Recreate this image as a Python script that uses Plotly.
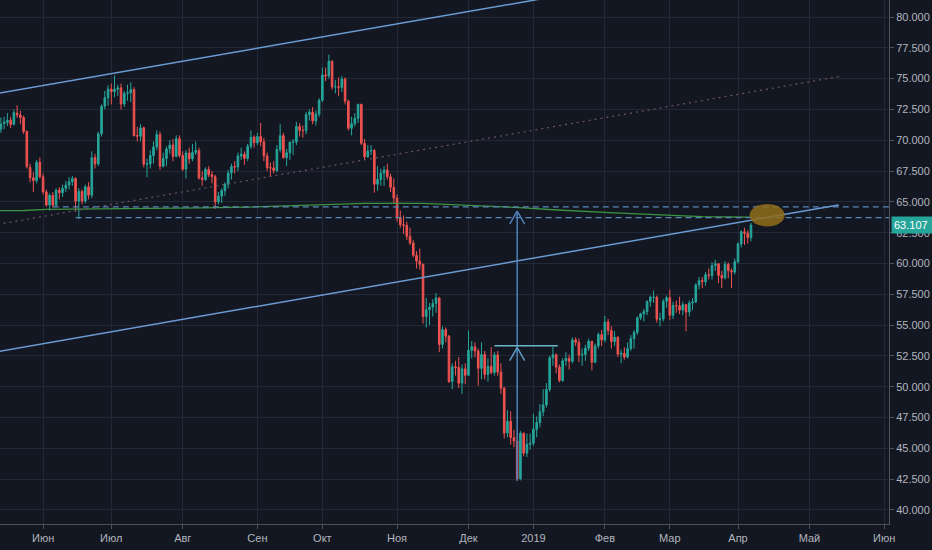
import pandas as pd
import plotly.graph_objects as go

# USOIL daily candles, 14 May 2018 .. 5 Apr 2019 (weekday bars, no bar on Dec 25 / Jan 1)
holidays = ["2018-12-25", "2019-01-01"]
dates = [d for d in pd.bdate_range("2018-05-14", "2019-04-05")
         if d.strftime("%Y-%m-%d") not in holidays]

opens = [
    # May
    70.62, 70.90, 71.35, 71.45, 71.62, 71.30, 72.20, 72.05, 71.84, 70.71, 67.80, 66.95, 66.73, 68.21,
    # Jun
    67.04, 65.81, 64.75, 65.52, 64.73, 65.95, 65.74, 66.10, 66.36, 66.64, 66.89, 65.06, 65.85, 65.07,
    66.22, 65.54, 68.58, 68.08, 70.53, 72.76, 73.45,
    # Jul
    74.15, 73.94, 74.14, 74.25, 72.94, 73.80, 73.85, 74.11, 70.38, 70.33, 71.01, 68.06, 68.08, 68.76,
    69.46, 70.46, 67.89, 68.52, 69.30, 69.61, 68.69, 70.13,
    # Aug
    68.76, 67.66, 68.96, 68.49, 69.01, 69.17, 66.94, 66.81, 67.63, 67.20, 67.04, 65.01, 65.46, 65.91,
    66.43, 67.35, 67.86, 67.83, 68.72, 68.87, 68.53, 69.51, 70.25,
    # Sep
    69.80, 70.30, 69.87, 68.72, 67.77, 67.75, 67.54, 69.25, 70.37, 68.59, 68.99, 69.85, 69.85, 71.12,
    70.80, 70.78, 72.08, 72.28, 71.57, 72.12,
    # Oct
    73.25, 75.30, 75.23, 76.41, 74.33, 74.34, 74.29, 74.96, 73.17, 70.97, 71.34, 71.78, 72.92, 69.75,
    68.65, 69.12, 69.17, 66.43, 66.82, 67.33, 67.59, 67.04, 66.18,
    # Nov
    65.31, 63.69, 63.14, 63.10, 62.21, 61.67, 60.67, 60.19, 59.93, 55.69, 56.25, 56.46, 56.76, 57.20,
    53.43, 54.63, 54.10, 50.42, 51.63, 51.56, 50.29, 51.45,
    # Dec
    50.93, 52.95, 53.25, 52.89, 51.49, 52.61, 51.00, 51.65, 51.15, 52.58, 51.20, 49.88, 46.24, 47.20,
    45.88, 45.59, 42.53, 46.22, 44.61, 45.33,
    # Jan
    45.41, 46.54, 47.09, 47.96, 48.52, 49.78, 52.36, 52.59, 51.59, 50.51, 52.11, 52.31, 52.07, 53.80,
    53.60, 52.57, 52.62, 53.13, 53.69, 51.99, 53.31, 54.23,
    # Feb
    53.79, 55.26, 54.56, 53.66, 54.01, 52.64, 52.72, 52.41, 53.10, 53.90, 54.41, 55.59, 55.90, 56.09,
    56.92, 57.26, 57.26, 55.48, 55.50, 56.94,
    # Mar
    57.22, 55.80, 56.59, 56.56, 56.22, 56.66, 56.07, 56.79, 56.87, 58.26, 58.61, 58.52, 59.09, 59.03,
    59.83, 59.98, 59.04, 58.82, 59.94, 59.41, 59.30,
    # Apr
    60.14, 61.59, 62.58, 62.46, 62.10,
]

highs = [
    71.38, 71.85, 71.90, 72.20, 71.90, 72.50, 72.83, 72.40, 72.00, 70.80, 68.10, 67.40, 68.40, 68.60,
    67.30, 66.00, 65.70, 65.80, 66.10, 66.20, 66.40, 66.70, 67.00, 67.10, 67.00, 66.10, 66.00, 66.40,
    66.60, 69.10, 68.90, 70.70, 72.90, 74.00, 74.46,
    74.60, 75.27, 74.50, 74.60, 74.00, 74.50, 74.70, 74.30, 71.10, 71.30, 71.10, 68.50, 69.20, 69.90,
    70.80, 70.70, 69.00, 69.50, 70.00, 70.10, 70.40, 70.40,
    69.10, 69.20, 69.40, 69.70, 69.90, 69.40, 67.50, 67.80, 67.90, 67.50, 67.20, 65.80, 66.10, 66.60,
    67.60, 68.10, 68.30, 69.00, 69.40, 69.10, 69.70, 70.80, 70.40,
    70.60, 71.40, 70.20, 69.00, 68.20, 68.30, 69.60, 71.30, 70.60, 69.30, 69.50, 70.10, 71.50, 71.40,
    71.20, 72.30, 72.50, 72.70, 72.40, 73.40,
    75.90, 75.90, 76.95, 76.50, 74.90, 75.10, 75.20, 75.10, 73.30, 71.90, 72.20, 72.95, 72.95, 70.10,
    69.60, 69.60, 69.30, 67.90, 67.70, 67.90, 68.10, 67.30, 66.90,
    65.60, 64.30, 63.90, 63.40, 62.90, 61.90, 61.00, 61.20, 60.00, 57.20, 56.80, 57.10, 57.60, 57.30,
    54.90, 54.80, 54.20, 51.90, 52.10, 52.40, 51.80, 51.90,
    54.55, 53.70, 53.60, 53.10, 53.60, 52.90, 52.30, 53.20, 52.80, 52.90, 51.90, 50.00, 48.10, 48.00,
    46.50, 46.20, 46.40, 46.30, 46.20, 46.20,
    47.80, 47.60, 48.60, 49.80, 50.30, 52.50, 53.25, 52.70, 51.80, 52.30, 52.80, 52.60, 54.00, 54.00,
    53.90, 53.10, 53.40, 53.90, 53.70, 53.50, 54.40, 54.60,
    55.75, 55.50, 54.90, 54.50, 54.10, 53.00, 53.20, 53.60, 54.20, 54.60, 55.70, 56.00, 56.30, 57.00,
    57.40, 57.80, 57.40, 56.00, 57.10, 57.40,
    57.88, 56.90, 57.00, 57.30, 56.90, 56.70, 57.00, 57.20, 58.40, 58.90, 58.90, 59.30, 59.60, 60.10,
    60.30, 60.00, 59.40, 60.20, 60.10, 59.60, 60.40,
    61.70, 62.70, 62.90, 62.70, 63.30,
]

lows = [
    70.30, 70.60, 70.90, 71.15, 71.00, 71.20, 71.80, 71.30, 70.50, 67.70, 66.60, 65.80, 66.50, 66.90,
    65.60, 64.60, 64.30, 64.55, 64.60, 65.20, 65.40, 65.80, 66.00, 66.30, 64.20, 63.60, 64.80, 64.90,
    65.20, 65.30, 67.70, 67.90, 70.30, 72.50, 72.80,
    72.90, 73.50, 73.60, 72.50, 72.70, 73.20, 73.10, 70.30, 69.90, 69.90, 67.80, 67.00, 67.70, 68.10,
    69.20, 67.60, 67.80, 67.90, 68.90, 68.30, 68.60, 68.60,
    67.50, 66.90, 68.10, 68.30, 68.80, 66.80, 66.30, 66.70, 67.00, 66.50, 64.43, 64.80, 64.90, 65.50,
    66.10, 66.80, 67.30, 67.50, 68.40, 68.00, 68.30, 69.30, 69.40,
    69.60, 69.50, 68.30, 67.50, 67.10, 67.30, 67.40, 69.00, 68.50, 67.90, 68.40, 68.80, 69.60, 70.30,
    70.20, 70.50, 71.60, 71.30, 71.20, 71.90,
    73.10, 74.80, 75.00, 74.10, 73.80, 73.60, 73.90, 72.90, 70.80, 70.40, 71.10, 71.40, 69.60, 68.40,
    68.60, 68.80, 65.74, 65.90, 66.30, 66.30, 66.80, 65.80, 64.90,
    63.40, 62.90, 62.40, 61.90, 61.50, 60.50, 59.60, 59.50, 55.12, 54.80, 55.00, 55.70, 56.00, 52.80,
    53.10, 53.60, 50.30, 49.80, 50.90, 49.90, 49.40, 50.20,
    50.90, 52.30, 52.40, 50.08, 50.60, 50.60, 50.40, 51.00, 50.90, 50.90, 49.40, 45.80, 45.90, 45.30,
    45.10, 42.36, 42.40, 44.35, 44.30, 44.90,
    45.20, 45.90, 46.70, 47.60, 48.30, 49.60, 51.70, 51.10, 50.35, 50.40, 51.70, 51.40, 51.90, 53.30,
    52.00, 51.70, 52.10, 52.90, 51.33, 51.90, 53.10, 53.30,
    53.60, 54.20, 53.10, 53.30, 52.40, 51.90, 52.20, 52.30, 52.90, 53.10, 54.20, 55.40, 55.30, 55.80,
    56.50, 56.80, 55.20, 54.90, 55.30, 56.40,
    55.40, 55.50, 56.00, 55.90, 55.80, 54.50, 55.70, 56.20, 56.80, 57.90, 58.00, 58.20, 58.70, 58.70,
    59.40, 58.40, 58.00, 58.70, 58.80, 58.00, 59.10,
    60.00, 61.30, 61.50, 61.60, 61.80,
]

closes = [
    70.96, 71.31, 71.49, 71.62, 71.28, 72.24, 72.05, 71.84, 70.71, 67.88, 66.95, 66.73, 68.21, 67.04,
    65.81, 64.75, 65.52, 64.73, 65.95, 65.74, 66.10, 66.36, 66.64, 66.89, 65.06, 65.85, 65.07, 66.22,
    65.54, 68.58, 68.08, 70.53, 72.76, 73.45, 74.15,
    73.94, 74.14, 74.25, 72.94, 73.80, 73.85, 74.11, 70.38, 70.33, 71.01, 68.06, 68.08, 68.76, 69.46,
    70.46, 67.89, 68.52, 69.30, 69.61, 68.69, 70.13, 68.76,
    67.66, 68.96, 68.49, 69.01, 69.17, 66.94, 66.81, 67.63, 67.20, 67.04, 65.01, 65.46, 65.91, 66.43,
    67.35, 67.86, 67.83, 68.72, 68.87, 68.53, 69.51, 70.25, 69.80,
    70.30, 69.87, 68.72, 67.77, 67.75, 67.54, 69.25, 70.37, 68.59, 68.99, 69.85, 69.85, 71.12, 70.80,
    70.78, 72.08, 72.28, 71.57, 72.12, 73.25,
    75.30, 75.23, 76.41, 74.33, 74.34, 74.29, 74.96, 73.17, 70.97, 71.34, 71.78, 72.92, 69.75, 68.65,
    69.12, 69.17, 66.43, 66.82, 67.33, 67.59, 67.04, 66.18, 65.31,
    63.69, 63.14, 63.10, 62.21, 61.67, 60.67, 60.19, 59.93, 55.69, 56.25, 56.46, 56.76, 57.20, 53.43,
    54.63, 54.10, 50.42, 51.63, 51.56, 50.29, 51.45, 50.93,
    52.95, 53.25, 52.89, 51.49, 52.61, 51.00, 51.65, 51.15, 52.58, 51.20, 49.88, 46.24, 47.20, 45.88,
    45.59, 42.53, 46.22, 44.61, 45.33, 45.41,
    46.54, 47.09, 47.96, 48.52, 49.78, 52.36, 52.59, 51.59, 50.51, 52.11, 52.31, 52.07, 53.80, 53.60,
    52.57, 52.62, 53.13, 53.69, 51.99, 53.31, 54.23, 53.79,
    55.26, 54.56, 53.66, 54.01, 52.64, 52.72, 52.41, 53.10, 53.90, 54.41, 55.59, 55.90, 56.09, 56.92,
    57.26, 57.26, 55.48, 55.50, 56.94, 57.22,
    55.80, 56.59, 56.56, 56.22, 56.66, 56.07, 56.79, 56.87, 58.26, 58.61, 58.52, 59.09, 59.03, 59.83,
    59.98, 59.04, 58.82, 59.94, 59.41, 59.30, 60.14,
    61.59, 62.58, 62.46, 62.10, 63.107,
]

assert len(dates) == len(opens) == len(highs) == len(lows) == len(closes)

# green moving average, read at a few points along the line
ma_dates = ["2018-05-14", "2018-05-24", "2018-06-04", "2018-07-02", "2018-07-19", "2018-08-09",
            "2018-08-29", "2018-09-14", "2018-09-26", "2018-10-09", "2018-10-18", "2018-11-13",
            "2018-11-26", "2018-12-11", "2018-12-27", "2019-01-10", "2019-01-24", "2019-02-06",
            "2019-02-15", "2019-03-01", "2019-03-15", "2019-04-05"]
ma_values = [64.28, 64.30, 64.39, 64.42, 64.46, 64.52, 64.58, 64.67, 64.74, 64.83, 64.88, 64.88,
             64.78, 64.67, 64.52, 64.36, 64.20, 64.10, 64.02, 63.90, 63.80, 63.76]

month_ticks = ["2018-06-01", "2018-07-02", "2018-08-01", "2018-09-03", "2018-10-01", "2018-11-01",
               "2018-12-03", "2019-01-02", "2019-02-01", "2019-03-01", "2019-04-01", "2019-05-01",
               "2019-06-03"]
month_labels = ["Июн", "Июл", "Авг", "Сен", "Окт", "Ноя", "Дек", "2019", "Фев", "Мар", "Апр",
                "Май", "Июн"]

# drawings (date, price)
upper_channel = [("2018-05-14", 73.80), ("2019-02-01", 82.37)]
mid_channel = [("2018-05-14", 63.17), ("2019-05-15", 75.21)]
lower_channel = [("2018-05-14", 52.85), ("2019-05-14", 64.75)]
level_top = ("2018-06-06", 64.60)
level_bottom = ("2018-06-15", 63.72)
arrow_date, arrow_from, arrow_mid, arrow_to = "2018-12-24", 42.36, 53.17, 64.25
bracket = ("2018-12-13", "2019-01-11 12:00", 53.33)
ellipse = ("2019-04-04 14:00", "2019-04-19 09:00", 63.0, 64.83)
last_price = closes[-1]

BG = "#131722"
GRID = "#242834"
TXT = "#b2b5be"
UP = "#26a69a"
DOWN = "#ef5350"
FONT = "Liberation Sans Narrow, Liberation Sans, Arial, sans-serif"

fig = go.Figure()
fig.add_trace(go.Candlestick(
    x=dates, open=opens, high=highs, low=lows, close=closes,
    increasing=dict(line=dict(color=UP, width=1), fillcolor=UP),
    decreasing=dict(line=dict(color=DOWN, width=1), fillcolor=DOWN),
    hoverinfo="skip",
))
fig.add_trace(go.Scatter(x=ma_dates, y=ma_values, mode="lines",
                         line=dict(color="#3a9440", width=1.3), hoverinfo="skip"))


def seg(p0, p1, color, width=1.5, dash="solid"):
    fig.add_shape(type="line", xref="x", yref="y", x0=p0[0], y0=p0[1], x1=p1[0], y1=p1[1],
                  line=dict(color=color, width=width, dash=dash))


seg(*upper_channel, "#6a9bd1")
seg(*lower_channel, "#6a9bd1")
seg(*mid_channel, "#6e5268", width=1.2, dash="2px,4px")
seg(level_top, ("2019-06-14", level_top[1]), "#5b87b5", width=1.2, dash="6px,4px")
seg(level_bottom, ("2019-06-14", level_bottom[1]), "#5b87b5", width=1.2, dash="6px,4px")

# arrow from the December low up to the level
seg((arrow_date, arrow_from), (arrow_date, arrow_to), "#4d80b8")
seg((bracket[0], bracket[2]), (bracket[1], bracket[2]), "#6cb6cc", width=1.5)
for tip, col in ((arrow_to, "#4d80b8"), (arrow_mid, "#5d9cc4")):
    for dx in (-7.5, 7.5):
        fig.add_shape(type="line", xref="x", yref="y", xsizemode="pixel", ysizemode="pixel",
                      xanchor=arrow_date, yanchor=tip, x0=0, y0=0, x1=dx, y1=-13,
                      line=dict(color=col, width=1.5))

fig.add_shape(type="circle", xref="x", yref="y", x0=ellipse[0], x1=ellipse[1],
              y0=ellipse[2], y1=ellipse[3], fillcolor="rgba(145,110,26,0.85)", line_width=0)

fig.add_annotation(x=1, xref="paper", xanchor="left", xshift=2, y=last_price, yref="y",
                   text=f"{last_price:.3f}", showarrow=False, bgcolor=UP, borderpad=2,
                   width=37, align="left", font=dict(color="#ffffff", size=11, family=FONT))

fig.update_layout(
    width=932, height=550,
    margin=dict(l=0, r=43, t=0, b=26),
    paper_bgcolor=BG, plot_bgcolor=BG,
    showlegend=False,
    font=dict(family=FONT, color=TXT, size=11),
    xaxis=dict(
        type="date",
        range=["2018-05-14 17:30", "2019-06-04 12:00"],
        rangebreaks=[dict(bounds=["sat", "mon"]), dict(values=holidays)],
        rangeslider=dict(visible=False),
        tickvals=month_ticks, ticktext=month_labels,
        showgrid=True, gridcolor=GRID, gridwidth=1,
        ticks="outside", ticklen=4, tickcolor="#50535e",
        showline=True, linecolor="#50535e", linewidth=1,
        zeroline=False, fixedrange=True,
    ),
    yaxis=dict(
        side="right",
        range=[38.86, 81.38],
        tick0=40, dtick=2.5, tickformat=".3f",
        showgrid=True, gridcolor=GRID, gridwidth=1,
        ticks="outside", ticklen=4, tickcolor="#50535e",
        showline=True, linecolor="#50535e", linewidth=1,
        zeroline=False, fixedrange=True,
    ),
)

# page body has a default 8px margin; drop it so the figure fills the window
fig.write_html("out.html", config={"displayModeBar": False},
               post_script="document.body.style.margin='0';document.body.style.background='#131722';")
